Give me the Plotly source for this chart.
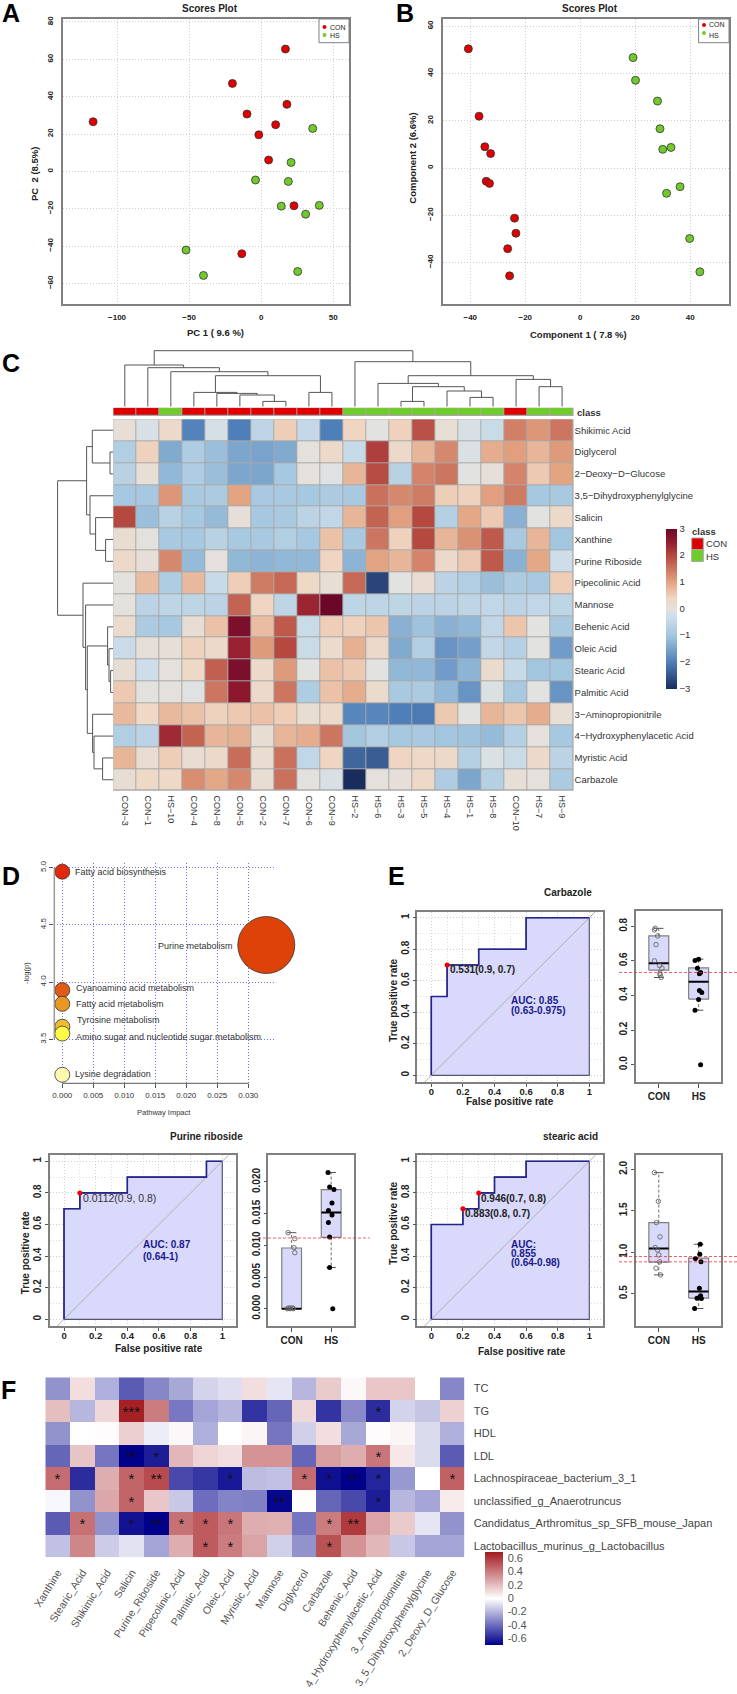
import plotly.graph_objects as go

W, H = 737, 1694
FONT = "Liberation Sans"
RED, GREEN = "#e00000", "#71c92d"

# ---------- Panel A / B scores ----------
A_CON_X = [-116.6, 16.9, -19.9, 17.9, -9.8, 10.1, -1.6, 5.2, 22.8, -13.4]
A_CON_Y = [26.6, 65.5, 47.1, 35.9, 30.7, 25, 19.6, 6.1, -18.4, -44.1]
A_HS_X = [35.8, 20.8, -3.9, 18.9, 14, 40.4, 30.9, -52.1, -40, 25.4]
A_HS_Y = [23, 4.8, -4.6, -5.4, -18.6, -18.2, -22.9, -42.1, -55.7, -53.6]
B_CON_X = [-40.7, -36.8, -34.7, -32.6, -34.2, -33, -23.9, -23.4, -26.4, -25.7]
B_CON_Y = [50.4, 21.9, 9, 6.1, -5.6, -6.5, -21.2, -27.6, -34.1, -45.6]
B_HS_X = [19.2, 20.1, 28.1, 29, 33, 30, 36.3, 31.4, 39.8, 43.5]
B_HS_Y = [46.7, 37.1, 28.3, 16.6, 8.7, 7.9, -7.9, -10.7, -29.8, -43.9]

# ---------- Panel C heatmap ----------
C_COLS = ["CON−3", "CON−1", "HS−10", "CON−4", "CON−8", "CON−5", "CON−2", "CON−7", "CON−6", "CON−9",
          "HS−2", "HS−6", "HS−3", "HS−5", "HS−4", "HS−1", "HS−8", "CON−10", "HS−7", "HS−9"]
C_CLASS = [0, 0, 1, 0, 0, 0, 0, 0, 0, 0, 1, 1, 1, 1, 1, 1, 1, 0, 1, 1]
C_ROWS = ["Shikimic Acid", "Diglycerol", "2−Deoxy−D−Glucose", "3,5−Dihydroxyphenylglycine", "Salicin",
          "Xanthine", "Purine Riboside", "Pipecolinic Acid", "Mannose", "Behenic Acid", "Oleic Acid",
          "Stearic Acid", "Palmitic Acid", "3−Aminopropionitrile", "4−Hydroxyphenylacetic Acid",
          "Myristic Acid", "Carbazole"]
C_VALUES = [
 [0.15,-0.15,0.3,-1.95,-0.2,-2.0,-0.55,0.5,-0.45,-2.0, 0.4,0.0,0.45,1.9,0.15,-0.15,-0.35,1.4,1.15,1.5],
 [-0.75,0.45,-1.4,-0.8,-1.1,-1.45,-1.5,-1.4,0.05,0.3, -0.4,2.1,0.3,0.8,1.3,-0.1,0.9,1.05,0.8,1.1],
 [-0.65,0.15,-1.2,-0.8,-1.1,-1.45,-1.45,-0.95,0.05,-0.05, 0.8,1.95,-0.65,1.35,1.5,0,0.1,1.35,0.55,1.0],
 [-0.95,-0.95,1.15,-0.9,-0.85,1.0,-0.9,-0.9,-0.95,-0.85, -0.9,1.55,1.3,1.45,0.5,0.45,1.05,1.45,-0.95,-0.9],
 [2.0,-1.1,-0.65,-0.95,-1.15,0.1,-0.95,-0.9,-0.6,-0.5, 0.8,1.7,1.05,2.0,-0.7,0.95,0.55,-1.3,0,0.3],
 [0.2,0.02,-0.9,-0.95,-0.65,-0.9,-0.9,-0.75,-0.95,0.65, -0.9,1.5,0.45,2.0,0.8,1.2,1.8,-0.9,0.8,-1.0],
 [0.3,0.12,1.3,-1.15,0.07,-1.2,-1.25,-1.2,-1.2,0.4, -1.25,1.0,0.8,1.35,0.3,0.55,1.8,-1.3,0.95,-0.3],
 [0.07,0.7,-0.8,0.75,-0.4,0.5,1.45,1.65,0.35,0.13, 1.65,-2.7,0,0.2,-0.6,-0.75,-1.1,-0.85,-0.9,0.5],
 [0.07,-0.6,-0.55,-0.55,-0.6,1.7,0.4,-0.55,2.4,3.0, -0.55,-0.55,-0.55,-0.6,-0.6,-0.55,-0.5,-0.6,-0.5,-0.55],
 [0.25,-0.85,-0.95,0.17,0.65,2.8,0.7,1.8,-0.35,0.5, 0.45,0.6,-1.3,-1.05,-1.3,-1.2,-0.5,0.6,0,-0.9],
 [-0.35,0.1,0.12,0.45,0.3,2.45,1.1,2.0,-0.35,0.25, 0.85,0.3,-1.4,-0.75,-1.7,-1.55,-0.5,-0.7,0,-1.6],
 [0.17,-0.3,0.07,0.35,1.75,2.8,0.3,1.1,0,0.65, 0.55,0,-1.2,-1.2,-1.6,-1.25,0.25,-0.4,-1.0,-1.0],
 [0.55,0.02,0.07,-0.05,1.5,2.6,0.3,1.5,-0.8,0.65, 0.9,0.25,-0.9,-0.85,-1.2,-1.7,-0.1,-0.9,0,-1.7],
 [0.75,0.35,0.75,0.65,0.45,0.55,0.65,0.5,0.2,0.3, -1.9,-1.9,-2.0,-2.05,0.55,0,0.8,0.6,0.9,0.15],
 [-0.75,-0.6,2.35,1.7,0.8,0.85,0.17,0.8,0.9,1.5, -1.0,-0.75,-0.95,-0.9,-1.0,-1.05,-1.15,-0.7,0.05,-0.95],
 [0.8,0.2,0.5,0.2,0.3,1.6,0.2,1.55,-0.5,0.4, -2.3,-2.4,0.4,0.35,0.3,-0.7,-0.1,-0.35,0.3,-0.6],
 [0.17,0.35,0.35,1.25,0.95,1.3,0.17,1.55,0.03,-0.15, -3.0,0.05,0.1,0.35,-0.8,-1.45,-0.7,0.15,0.05,-0.85],
]
C_COL_MERGES = [(6,7,5.3),(5,20,11.7),(4,21,13.3),(3,22,14.3),(8,9,14.3),(23,24,31),(2,25,35),(1,26,39),(0,27,41.7),
                (12,13,5.3),(15,16,9.3),(14,30,15.7),(29,31,20),(11,32,23.3),(18,19,20),(17,34,27.3),(33,35,31),
                (10,36,45),(28,37,56)]
C_ROW_MERGES = [(1,2,3.3),(0,17,21),(5,6,7.7),(4,19,17.7),(3,20,23.3),(18,21,26.7),(11,12,2.7),(10,23,4.3),(9,24,5.7),
                (15,16,10.7),(14,26,19.3),(13,27,20.7),(25,28,26),(8,29,27.7),(7,30,30.3),(22,31,55.7)]

# ---------- Panel D ----------
D_NAMES = ["Fatty acid biosynthesis", "Purine metabolism", "Cyanoamino acid metabolism", "Fatty acid metabolism",
           "Tyrosine metabolism", "Amino sugar and nucleotide sugar metabolism", "Lysine degradation"]
D_IMPACT = [0, 0.0329, 0, 0, 0, 0, 0]
D_LOGP = [4.965, 4.324, 3.93, 3.81, 3.61, 3.55, 3.19]
D_SIZE = [15, 57, 15, 15, 15, 15, 15]
D_COLORS = ["#e12a0b", "#dd4209", "#e05b15", "#e89725", "#f3bb2e", "#fdfb45", "#fdfab0"]

# ---------- Panel E ROC ----------
CARB_FPR = [0, 0, 0.1, 0.1, 0.3, 0.3, 0.6, 0.6, 1]
CARB_TPR = [0, 0.5, 0.5, 0.7, 0.7, 0.8, 0.8, 1, 1]
CARB_CUT_X, CARB_CUT_Y = [0.1], [0.7]
PUR_FPR = [0, 0, 0.1, 0.1, 0.4, 0.4, 0.9, 0.9, 1]
PUR_TPR = [0, 0.7, 0.7, 0.8, 0.8, 0.9, 0.9, 1, 1]
PUR_CUT_X, PUR_CUT_Y = [0.1], [0.8]
STE_FPR = [0, 0, 0.2, 0.2, 0.3, 0.3, 0.4, 0.4, 0.6, 0.6, 1]
STE_TPR = [0, 0.6, 0.6, 0.7, 0.7, 0.8, 0.8, 0.9, 0.9, 1, 1]
STE_CUT_X, STE_CUT_Y = [0.2, 0.3], [0.7, 0.8]

CARB_CON_X = [.91,.89,.97,.93,.89,1.02,1.08,1.03,1.03,1.06]
CARB_CON_Y = [.788,.779,.744,.694,.6,.573,.558,.529,.519,.504]
CARB_HS_X = [2.0,1.91,1.97,2.05,2.02,2.02,2.08,2.0,1.91,2.05]
CARB_HS_Y = [.61,.602,.558,.533,.525,.429,.417,.377,.315,0.0]
CARB_BOX = [(0.546,0.587,0.744,0.504,0.788),(0.379,0.479,0.56,0.315,0.61)]
CARB_THRESH = [0.533]
PUR_CON_X = [.91,1.08,1.06,1.08,.92,.97,1.03,.89,.96,1.04]
PUR_CON_Y = [.012,.01105,.00963,.00884,.0001,.0001,.0001,0,0,0]
PUR_HS_X = [1.92,1.96,2.07,2.02,1.93,2.02,1.93,1.96,1.96,2.04]
PUR_HS_Y = [.0215,.0192,.0188,.0167,.0155,.0148,.0136,.0113,.0065,0]
PUR_BOX = [(0,0,0.00958,0,0.012),(0.01126,0.0152,0.0188,0.0065,0.0215)]
PUR_THRESH = [0.01116]
STE_CON_X = [.89,.99,.94,1.03,.91,.97,1.0,1.02,.93,1.04]
STE_CON_Y = [1.96,1.614,1.357,1.185,1.056,1.028,.968,.884,.807,.727]
STE_HS_X = [2.04,2.03,1.92,2.06,2.02,1.96,2.05,2.07,2.03,1.9]
STE_HS_Y = [1.096,.976,.924,.884,.566,.446,.474,.442,.458,.321]
STE_BOX = [(0.88,1.044,1.357,0.727,1.96),(0.446,0.526,0.928,0.321,1.096)]
STE_THRESH = [0.948, 0.884]

# ---------- Panel F ----------
F_COLS = ["Xanthine", "Stearic_Acid", "Shikimic_Acid", "Salicin", "Purine_Riboside", "Pipecolinic_Acid", "Palmitic_Acid",
          "Oleic_Acid", "Myristic_Acid", "Mannose", "Diglycerol", "Carbazole", "Behenic_Acid",
          "4_Hydroxyphenylacetic_Acid", "3_Aminopropionitrile", "3_5_Dihydroxyphenylglycine", "2_Deoxy_D_Glucose"]
F_ROWS = ["TC", "TG", "HDL", "LDL", "Lachnospiraceae_bacterium_3_1", "unclassified_g_Anaerotruncus",
          "Candidatus_Arthromitus_sp_SFB_mouse_Japan", "Lactobacillus_murinus_g_Lactobacillus"]
F_VALUES = [
 [-0.3,0.1,-0.22,-0.45,-0.33,-0.24,-0.12,-0.09,0.1,-0.07,-0.2,0.16,0.02,0.17,0.17,0.0,-0.33],
 [0.2,-0.2,0.12,0.68,0.4,-0.37,-0.25,-0.2,-0.56,-0.42,0.12,-0.56,-0.32,-0.58,-0.12,-0.16,0.14],
 [-0.3,0,0.01,0.15,-0.05,0.02,-0.22,0,0.03,-0.38,-0.13,0.1,-0.24,0.01,0.03,-0.1,-0.22],
 [-0.42,0.18,-0.38,-0.7,-0.62,0.22,0.13,0.1,0.33,0.33,-0.42,0.3,0.25,0.42,0.07,-0.1,-0.45],
 [0.45,-0.58,0.25,0.47,0.55,-0.5,-0.55,-0.63,-0.18,-0.17,0.45,-0.66,-0.7,-0.6,-0.28,0,0.48],
 [-0.02,-0.3,0.27,0.47,0.17,-0.15,-0.4,-0.34,-0.35,-0.68,0.01,-0.42,-0.5,-0.62,-0.2,-0.25,0.06],
 [-0.45,0.43,-0.3,-0.65,-0.7,0.43,0.5,0.42,0.25,0.24,-0.38,0.4,0.6,0.28,0.16,-0.07,-0.3],
 [-0.17,0.37,-0.14,-0.08,-0.25,0.25,0.5,0.4,0.28,-0.13,-0.3,0.53,0.33,0.22,-0.15,-0.25,-0.25],
]
F_STARS = [
 [""]*17,
 ["","","","***","","","","","","","","","","*","","",""],
 [""]*17,
 ["","","","**","*","","","","","","","","","*","","",""],
 ["*","","","*","**","","","*","","","*","*","**","*","","","*"],
 ["","","","*","","","","","","**","","","","*","","",""],
 ["","*","","*","**","*","*","*","","","","*","**","","","",""],
 ["","","","","","","*","*","","","","*","","","","",""],
]

C_SCALE_VALUES = [-3, -2, -1, -0.3, 0, 0.4, 1, 2, 2.5, 3]
C_SCALE_COLORS = ["#1a2c5e", "#4f7fb8", "#a3c6df", "#cddde9", "#e2e2e0", "#f0d6c2", "#e3a482", "#b5483f", "#951c30", "#6b0728"]

# ---------- helpers ----------
fig = go.Figure()
layout = {}
n_ax = 0
ann = []
shapes = []
DOTS = "1px,2px"

def axes(px0, py0, px1, py1, xr, yr, xo=None, yo=None):
    global n_ax
    n_ax += 1
    s = "" if n_ax == 1 else str(n_ax)
    xa = dict(domain=[px0 / W, px1 / W], anchor="y" + s, range=xr, showgrid=False, zeroline=False,
              showticklabels=False, ticks="")
    ya = dict(domain=[1 - py1 / H, 1 - py0 / H], anchor="x" + s, range=yr, showgrid=False, zeroline=False,
              showticklabels=False, ticks="")
    xa.update(xo or {})
    ya.update(yo or {})
    layout["xaxis" + s] = xa
    layout["yaxis" + s] = ya
    return "x" + s, "y" + s

def T(x, y, text, size=10, bold=False, anchor="center", rot=0, color="#222"):
    if bold:
        text = "<b>" + text + "</b>"
    ann.append(dict(x=x / W, y=1 - y / H, xref="paper", yref="paper", text=text, showarrow=False,
                    xanchor=anchor, yanchor="middle", textangle=rot, borderpad=0, borderwidth=0,
                    font=dict(family=FONT, size=size, color=color)))

def rect(x0, y0, x1, y1, fill, line="#999", w=1):
    shapes.append(dict(type="rect", xref="paper", yref="paper", x0=x0 / W, x1=x1 / W, y0=1 - y0 / H, y1=1 - y1 / H,
                       fillcolor=fill, line=dict(color=line, width=w)))

def dendro(merges, n):
    pos = {i: float(i) for i in range(n)}
    hgt = {i: 0.0 for i in range(n)}
    a_pos, a_h = [], []
    for k, (a, b, h) in enumerate(merges):
        a_pos += [pos[a], pos[a], pos[b], pos[b], None]
        a_h += [hgt[a], h, h, hgt[b], None]
        pos[n + k] = (pos[a] + pos[b]) / 2
        hgt[n + k] = h
    return a_pos, a_h

panel = dict(showline=True, mirror=True, linecolor="#808080", linewidth=1.5, showgrid=True, gridcolor="#cfcfcf",
             griddash=DOTS, gridwidth=1, showticklabels=True, ticks="outside", ticklen=5,
             tickcolor="rgba(0,0,0,0)", tickfont=dict(family=FONT, size=8, color="#222", weight="bold"))

def scores(px0, px1, xr, yr, xt, yt, cx, cy, hx, hy):
    xa, ya = axes(px0, 19, px1, 304, xr, yr, dict(panel, tickvals=xt), dict(panel, tickvals=yt, tickangle=-90))
    for xs, ys, col in ((cx, cy, RED), (hx, hy, GREEN)):
        fig.add_trace(go.Scatter(x=xs, y=ys, mode="markers", xaxis=xa, yaxis=ya, showlegend=False,
                                 marker=dict(size=8, color=col, line=dict(color="#333", width=0.8))))

# A
scores(62.7, 349, [-137.7, 61], [-71, 81.6], [-100, -50, 0, 50], [-60, -40, -20, 0, 20, 40, 60, 80],
       A_CON_X, A_CON_Y, A_HS_X, A_HS_Y)
# B
scores(442.5, 729, [-50.1, 54.1], [-57.5, 63], [-40, -20, 0, 20, 40], [-40, -20, 0, 20, 40, 60],
       B_CON_X, B_CON_Y, B_HS_X, B_HS_Y)

T(210, 8.3, "Scores Plot", 10, True)
T(590, 8, "Scores Plot", 10, True)
T(215, 333, "PC 1 ( 9.6 %)", 9.5, True)
T(35, 174, "PC  2 (8.5%)", 9.5, True, rot=-90)
T(578, 334, "Component 1 ( 7.8 %)", 9.5, True)
T(412.7, 158, "Component 2 (6.6%)", 9.5, True, rot=-90)
rect(319, 19, 349, 42.7, "white", "#808080", 1)
rect(698.6, 19, 729, 42.7, "white", "#808080", 1)
for cx_, cy_, col in ((324.5, 27, RED), (324.5, 35, GREEN), (704, 25, RED), (704, 33, GREEN)):
    shapes.append(dict(type="circle", xref="paper", yref="paper", x0=(cx_ - 2) / W, x1=(cx_ + 2) / W,
                       y0=1 - (cy_ + 2) / H, y1=1 - (cy_ - 2) / H, fillcolor=col, line=dict(width=0)))
T(330, 27, "CON", 7, anchor="left")
T(330, 35, "HS", 7, anchor="left")
T(709, 24.5, "CON", 7, anchor="left")
T(709, 35, "HS", 7, anchor="left")

# Panel letters
for x_, y_, t_ in ((2, 13, "A"), (396, 13, "B"), (2, 363, "C"), (2, 876, "D"), (388, 876, "E"), (1, 1390, "F")):
    T(x_, y_, t_, 25, True, anchor="left", color="#000")

# ---------- C ----------
HX0, HX1, HY0, HY1 = 113.3, 573.6, 419.3, 790.7
scale = [[(v + 3) / 6, c] for v, c in zip(C_SCALE_VALUES, C_SCALE_COLORS)]
xa, ya = axes(HX0, HY0, HX1, HY1, [-0.5, 19.5], [16.5, -0.5],
              dict(tickvals=list(range(20)), ticktext=C_COLS, showticklabels=True, tickangle=90,
                   ticks="outside", ticklen=2, tickcolor="rgba(0,0,0,0)",
                   tickfont=dict(family=FONT, size=9, color="#333")),
              dict(tickvals=list(range(17)), ticktext=C_ROWS, showticklabels=True, side="right",
                   tickfont=dict(family=FONT, size=9.5, color="#333")))
fig.add_trace(go.Heatmap(z=C_VALUES, x=list(range(20)), y=list(range(17)), xaxis=xa, yaxis=ya, colorscale=scale,
                         zmin=-3, zmax=3, xgap=1, ygap=1, hoverinfo="skip",
                         colorbar=dict(x=666 / W, xanchor="left", y=1 - 528.5 / H, yanchor="top", lenmode="pixels",
                                       len=159.5, thicknessmode="pixels", thickness=10.7, xpad=0, ypad=0,
                                       outlinewidth=0, tickvals=[-3, -2, -1, 0, 1, 2, 3],
                                       ticktext=["−3", "−2", "−1", "0", "1", "2", "3"], ticks="",
                                       tickfont=dict(family=FONT, size=9.5, color="#333"))))
shapes.append(dict(type="rect", xref="paper", yref="paper", x0=HX0 / W, x1=HX1 / W, y0=1 - HY1 / H, y1=1 - HY0 / H,
                   fillcolor="#a8a8a8", line=dict(width=0), layer="below"))
xa, ya = axes(HX0, 407.7, HX1, 416, [-0.5, 19.5], [-0.5, 0.5])
fig.add_trace(go.Heatmap(z=[C_CLASS], x=list(range(20)), y=[0], xaxis=xa, yaxis=ya, showscale=False, zmin=0, zmax=1,
                         colorscale=[[0, "#dd0000"], [1, "#6fcc2a"]], xgap=1, ygap=1, hoverinfo="skip"))
shapes.append(dict(type="rect", xref="paper", yref="paper", x0=HX0 / W, x1=HX1 / W, y0=1 - 416 / H, y1=1 - 407.7 / H,
                   fillcolor="#a8a8a8", line=dict(width=0), layer="below"))
T(577.3, 412, "class", 9.5, True, anchor="left", color="#333")
xa, ya = axes(HX0, 349.7, HX1, 406.7, [-0.5, 19.5], [0, 57])
p, h = dendro(C_COL_MERGES, 20)
fig.add_trace(go.Scatter(x=p, y=h, mode="lines", xaxis=xa, yaxis=ya, showlegend=False,
                         line=dict(color="#555", width=1)))
xa, ya = axes(56.3, HY0, 113.3, HY1, [57, 0], [16.5, -0.5])
p, h = dendro(C_ROW_MERGES, 17)
fig.add_trace(go.Scatter(x=h, y=p, mode="lines", xaxis=xa, yaxis=ya, showlegend=False,
                         line=dict(color="#555", width=1)))
T(691.7, 531.7, "class", 9.5, True, anchor="left", color="#333")
rect(691.7, 538, 703.3, 549.5, "#dd0000", "#a8a8a8")
rect(691.7, 549.5, 703.3, 561.5, "#6fcc2a", "#a8a8a8")
T(706, 544, "CON", 9.5, anchor="left", color="#333")
T(706, 556, "HS", 9.5, anchor="left", color="#333")

# ---------- D ----------
d_blue = dict(showgrid=True, gridcolor="#6f6fff", griddash=DOTS, gridwidth=1, ticks="outside", ticklen=4,
              tickcolor="#555", showticklabels=True, tickfont=dict(family=FONT, size=8, color="#333"))
DX = [0, 0.005, 0.01, 0.015, 0.02, 0.025, 0.03]
DY = [3.5, 4, 4.5, 5]
xa, ya = axes(54.3, 863, 275, 1083.3, [(54.3 - 62.3) / 6200, (275 - 62.3) / 6200],
              [5 - (1083.3 - 867.7) / 114.4, 5 + 4.7 / 114.4],
              dict(d_blue, tickvals=DX, tickformat=".3f"), dict(d_blue, tickvals=DY, tickformat=".1f", tickangle=-90))
shapes.append(dict(type="line", xref=xa, yref="paper", x0=DX[0], x1=DX[-1], y0=1 - 1083.3 / H, y1=1 - 1083.3 / H,
                   line=dict(color="#555", width=1)))
shapes.append(dict(type="line", xref="paper", yref=ya, x0=54.3 / W, x1=54.3 / W, y0=DY[0], y1=DY[-1],
                   line=dict(color="#999", width=1.5)))
fig.add_trace(go.Scatter(x=D_IMPACT, y=D_LOGP, mode="markers", xaxis=xa, yaxis=ya, showlegend=False, cliponaxis=False,
                         marker=dict(size=D_SIZE, color=D_COLORS, sizemode="diameter", opacity=1,
                                     line=dict(color="#333", width=0.8))))
for (x_, y_, anc), name in zip(((75, 871.7, "left"), (233, 946, "right"), (76, 988, "left"), (76, 1004, "left"),
                                (77, 1020, "left"), (76, 1037, "left"), (75, 1074, "left")), D_NAMES):
    T(x_, y_, name, 9, anchor=anc, color="#333")
T(164, 1112, "Pathway Impact", 7.5, color="#333")
T(26, 973, "-log(p)", 7.5, rot=-90, color="#333")

# ---------- ROC + box ----------
tick_b = dict(family=FONT, size=10, color="#222", weight="bold")
roc_base = dict(showline=True, mirror=True, linecolor="#808080", linewidth=1.5, showgrid=True, griddash=DOTS,
                gridcolor="#cfcfcf", gridwidth=1, showticklabels=True, ticks="outside", ticklen=3, tickcolor="#555",
                tickvals=[0, 0.2, 0.4, 0.6, 0.8, 1], ticktext=["0", "0.2", "0.4", "0.6", "0.8", "1"], tickfont=tick_b,
                minor=dict(tickvals=[0.1, 0.3, 0.5, 0.7, 0.9], showgrid=True, griddash=DOTS, gridcolor="#dedede", ticks=""))

def roc(px0, py0, px1, py1, fpr, tpr, cx, cy):
    xa, ya = axes(px0, py0, px1, py1, [-0.0886, 1.0886], [-0.0425, 1.038],
                  dict(roc_base, ticklabelstandoff=-3, tickfont=dict(tick_b, size=9.5)), dict(roc_base, tickangle=-90))
    fig.add_trace(go.Scatter(x=fpr + [1, 0], y=tpr + [0, 0], mode="lines", fill="toself", fillcolor="#d9d9fb",
                             line=dict(color="#55557a", width=1.2), xaxis=xa, yaxis=ya, showlegend=False))
    fig.add_trace(go.Scatter(x=[-0.2, 1.2], y=[-0.2, 1.2], mode="lines", line=dict(color="#b0b0b0", width=1),
                             xaxis=xa, yaxis=ya, showlegend=False))
    fig.add_trace(go.Scatter(x=fpr, y=tpr, mode="lines", line=dict(color="#24248f", width=1.6),
                             xaxis=xa, yaxis=ya, showlegend=False))
    fig.add_trace(go.Scatter(x=cx, y=cy, mode="markers", marker=dict(size=5, color="#f00000"),
                             xaxis=xa, yaxis=ya, showlegend=False))

def boxp(px0, py0, px1, py1, xr, yr, yticks, ytext, boxes, con, hs, thresh, redx0):
    yb = dict(showline=True, mirror=True, linecolor="#808080", linewidth=1.5, showticklabels=True, ticks="outside",
              ticklen=3, tickcolor="#555", tickfont=tick_b)
    xa, ya = axes(px0, py0, px1, py1, xr, yr, dict(yb, tickvals=[1, 2], ticktext=["CON", "HS"], ticklen=4),
                  dict(yb, tickvals=yticks, ticktext=ytext, tickangle=-90))
    hw, cw = 0.25, 0.12
    for pos, (q1, med, q3, lo, hi) in zip((1, 2), boxes):
        fig.add_trace(go.Scatter(x=[pos - hw, pos + hw, pos + hw, pos - hw, pos - hw], y=[q1, q1, q3, q3, q1], mode="lines",
                                 fill="toself", fillcolor="#d9d9fb", line=dict(color="#808080", width=1.2),
                                 xaxis=xa, yaxis=ya, showlegend=False))
        fig.add_trace(go.Scatter(x=[pos, pos, None, pos, pos], y=[q3, hi, None, q1, lo], mode="lines",
                                 line=dict(color="#707070", width=1, dash="3px,2px"), xaxis=xa, yaxis=ya, showlegend=False))
        fig.add_trace(go.Scatter(x=[pos - cw, pos + cw, None, pos - cw, pos + cw], y=[hi, hi, None, lo, lo], mode="lines",
                                 line=dict(color="#555", width=1), xaxis=xa, yaxis=ya, showlegend=False))
        fig.add_trace(go.Scatter(x=[pos - hw, pos + hw], y=[med, med], mode="lines",
                                 line=dict(color="#000", width=2), xaxis=xa, yaxis=ya, showlegend=False))
    fig.add_trace(go.Scatter(x=con[0], y=con[1], mode="markers", xaxis=xa, yaxis=ya, showlegend=False,
                             marker=dict(size=4.5, color="rgba(0,0,0,0)", line=dict(color="#666", width=0.9))))
    fig.add_trace(go.Scatter(x=hs[0], y=hs[1], mode="markers", xaxis=xa, yaxis=ya, showlegend=False,
                             marker=dict(size=5, color="#000")))
    for t in thresh:
        shapes.append(dict(type="line", xref="paper", yref=ya, x0=redx0 / W, x1=(px1 + 15.7) / W,
                           y0=t, y1=t, line=dict(color="rgba(240,40,50,0.75)", width=1, dash="3px,2px")))

# Carbazole
roc(417.3, 911.7, 603.3, 1082, CARB_FPR, CARB_TPR, CARB_CUT_X, CARB_CUT_Y)
boxp(635.7, 910.7, 721.3, 1082.3, [0.42, 2.57], [-0.1017, 0.89], [0, 0.2, 0.4, 0.6, 0.8], ["0.0", "0.2", "0.4", "0.6", "0.8"],
     CARB_BOX, (CARB_CON_X, CARB_CON_Y), (CARB_HS_X, CARB_HS_Y), CARB_THRESH, 619)
T(568, 892.7, "Carbazole", 10, True)
T(510, 1101, "False positive rate", 10, True)
T(392.7, 1000, "True positive rate", 10, True, rot=-90)
T(450, 970, "0.531(0.9, 0.7)", 10, True, anchor="left")
T(510.7, 1000, "AUC: 0.85", 10, True, anchor="left", color="#1a1a8c")
T(510.7, 1010, "(0.63-0.975)", 10, True, anchor="left", color="#1a1a8c")

# Purine riboside
roc(50, 1155.3, 236.3, 1326, PUR_FPR, PUR_TPR, PUR_CUT_X, PUR_CUT_Y)
boxp(268.3, 1155, 354, 1326, [0.41, 2.577], [-0.00273, 0.02426], [0, 0.005, 0.01, 0.015, 0.02],
     ["0.000", "0.005", "0.010", "0.015", "0.020"], PUR_BOX, (PUR_CON_X, PUR_CON_Y), (PUR_HS_X, PUR_HS_Y), PUR_THRESH, 258)
T(206, 1136.7, "Purine riboside", 10, True)
T(159, 1348, "False positive rate", 10, True)
T(25.7, 1252.5, "True positive rate", 10, True, rot=-90)
T(82.7, 1198, "0.0112(0.9, 0.8)", 10.5, anchor="left", color="#333")
T(143.3, 1244, "AUC: 0.87", 10, True, anchor="left", color="#1a1a8c")
T(143.3, 1256, "(0.64-1)", 10, True, anchor="left", color="#1a1a8c")

# Stearic acid
roc(417.3, 1155.3, 603.3, 1326, STE_FPR, STE_TPR, STE_CUT_X, STE_CUT_Y)
boxp(635.7, 1155.3, 721.3, 1326, [0.42, 2.57], [0.11, 2.169], [0.5, 1, 1.5, 2], ["0.5", "1.0", "1.5", "2.0"],
     STE_BOX, (STE_CON_X, STE_CON_Y), (STE_HS_X, STE_HS_Y), STE_THRESH, 619)
T(570, 1136.7, "stearic acid", 10, True)
T(521.7, 1351, "False positive rate", 10, True)
T(392.7, 1223, "True positive rate", 10, True, rot=-90)
T(481, 1198, "0.946(0.7, 0.8)", 10, True, anchor="left")
T(465.3, 1213.7, "0.883(0.8, 0.7)", 10, True, anchor="left")
T(510.7, 1244, "AUC:", 10, True, anchor="left", color="#1a1a8c")
T(510.7, 1253, "0.855", 10, True, anchor="left", color="#1a1a8c")
T(510.7, 1262, "(0.64-0.98)", 10, True, anchor="left", color="#1a1a8c")

# ---------- F ----------
xa, ya = axes(45.3, 1377.3, 464.6, 1557.3, [-0.5, 16.5], [7.5, -0.5],
              dict(tickvals=list(range(17)), ticktext=F_COLS, showticklabels=True, tickangle=-58, ticks="outside",
                   ticklen=4, tickcolor="rgba(0,0,0,0)", tickfont=dict(family=FONT, size=10.6, color="#555")),
              dict(tickvals=list(range(8)), ticktext=F_ROWS, showticklabels=True, side="right", ticks="outside", ticklen=6,
                   tickcolor="rgba(0,0,0,0)", tickfont=dict(family=FONT, size=11, color="#444")))
fig.add_trace(go.Heatmap(z=F_VALUES, x=list(range(17)), y=list(range(8)), xaxis=xa, yaxis=ya, zmin=-0.7, zmax=0.7,
                         colorscale=[[0, "#00008b"], [0.5, "#ffffff"], [1, "#a31a1f"]], text=F_STARS,
                         texttemplate="%{text}", textfont=dict(family=FONT, size=15, color="#111"), hoverinfo="skip",
                         colorbar=dict(x=485 / W, xanchor="left", y=1 - 1551.7 / H, yanchor="top", lenmode="pixels", len=93.3,
                                       thicknessmode="pixels", thickness=18.3, xpad=0, ypad=0, outlinewidth=0,
                                       tickvals=[-0.6, -0.4, -0.2, 0, 0.2, 0.4, 0.6], ticks="outside", ticklen=3,
                                       tickcolor="rgba(0,0,0,0)",
                                       ticktext=["-0.6", "-0.4", "-0.2", "0", "0.2", "0.4", "0.6"],
                                       tickfont=dict(family=FONT, size=11, color="#555"))))

fig.update_layout(width=W, height=H, margin=dict(l=0, r=0, t=0, b=0, autoexpand=False), autosize=False, paper_bgcolor="white",
                  plot_bgcolor="rgba(0,0,0,0)", annotations=ann, shapes=shapes, showlegend=False,
                  font=dict(family=FONT), **layout)
fig.write_html("out.html", config={"displayModeBar": False},
               post_script="document.body.style.margin='0';")
